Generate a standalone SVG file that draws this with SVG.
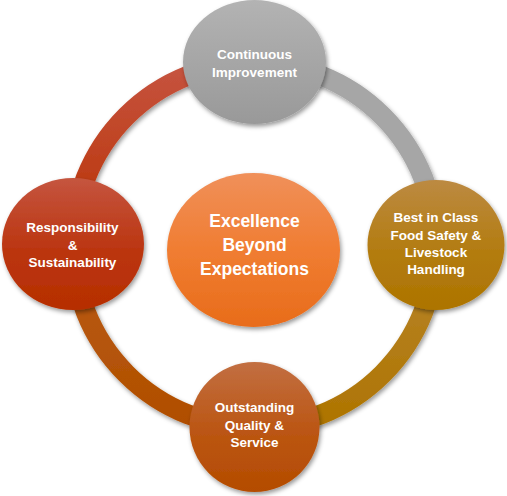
<svg xmlns="http://www.w3.org/2000/svg" width="507" height="496" viewBox="0 0 507 496">
<defs>
<filter id="sh" x="-20%" y="-20%" width="140%" height="140%">
<feDropShadow dx="1.5" dy="2.5" stdDeviation="2" flood-color="#000" flood-opacity="0.4"/>
</filter>
<linearGradient id="gTop" x1="0" y1="0" x2="0" y2="1">
<stop offset="0" stop-color="#b3b3b3"/><stop offset="1" stop-color="#999999"/>
</linearGradient>
<linearGradient id="gLeft" x1="0" y1="0" x2="0" y2="1">
<stop offset="0" stop-color="#c5553f"/><stop offset="0.55" stop-color="#bb3510"/><stop offset="1" stop-color="#b62e00"/>
</linearGradient>
<linearGradient id="gRight" x1="0" y1="0" x2="0" y2="1">
<stop offset="0" stop-color="#bc8a42"/><stop offset="0.55" stop-color="#b37c10"/><stop offset="1" stop-color="#ad7400"/>
</linearGradient>
<linearGradient id="gBottom" x1="0" y1="0" x2="0" y2="1">
<stop offset="0" stop-color="#c26f42"/><stop offset="0.55" stop-color="#bb5512"/><stop offset="1" stop-color="#b44c00"/>
</linearGradient>
<linearGradient id="gCenter" x1="0" y1="0" x2="0" y2="1">
<stop offset="0" stop-color="#f0905a"/><stop offset="0.5" stop-color="#f07d32"/><stop offset="1" stop-color="#e86c1a"/>
</linearGradient>
<linearGradient id="aRed" gradientUnits="userSpaceOnUse" x1="0" y1="63" x2="0" y2="245">
<stop offset="0" stop-color="#c65440"/><stop offset="1" stop-color="#b83000"/>
</linearGradient>
<linearGradient id="aGold" gradientUnits="userSpaceOnUse" x1="0" y1="245" x2="0" y2="427">
<stop offset="0" stop-color="#b8862e"/><stop offset="1" stop-color="#ae7400"/>
</linearGradient>
<linearGradient id="aOrange" gradientUnits="userSpaceOnUse" x1="0" y1="245" x2="0" y2="427">
<stop offset="0" stop-color="#ba5c14"/><stop offset="1" stop-color="#b04e00"/>
</linearGradient>
</defs>
<style>
.arc{fill:none;stroke-width:20}
.t{font-family:"Liberation Sans",Arial,sans-serif;font-weight:bold;fill:#ffffff;text-anchor:middle;font-size:13.5px}
.tc{font-size:17.5px}
</style>
<g id="connectors" filter="url(#sh)">
<path class="arc" d="M73,245 A181.5,182 0 0 1 254.5,63" stroke="url(#aRed)"/>
<path class="arc" d="M254.5,63 A181.5,182 0 0 1 436,245" stroke="#a6a6a6"/>
<path class="arc" d="M436,245 A181.5,182 0 0 1 254.5,427" stroke="url(#aGold)"/>
<path class="arc" d="M254.5,427 A181.5,182 0 0 1 73,245" stroke="url(#aOrange)"/>
</g>
<g id="center">
<ellipse cx="253.5" cy="250" rx="86.5" ry="77" fill="url(#gCenter)" filter="url(#sh)"/>
<text class="t tc" x="254.5" y="227">Excellence</text>
<text class="t tc" x="254.5" y="251">Beyond</text>
<text class="t tc" x="254.5" y="275">Expectations</text>
</g>
<g id="top">
<ellipse cx="254.5" cy="62" rx="71.5" ry="62" fill="url(#gTop)" filter="url(#sh)"/>
<text class="t" x="254.5" y="59">Continuous</text>
<text class="t" x="254.5" y="77">Improvement</text>
</g>
<g id="left">
<ellipse cx="73" cy="244" rx="71" ry="66" fill="url(#gLeft)" filter="url(#sh)"/>
<text class="t" x="72.5" y="232">Responsibility</text>
<text class="t" x="72.5" y="250">&amp;</text>
<text class="t" x="72.5" y="267">Sustainability</text>
</g>
<g id="right">
<ellipse cx="436" cy="245" rx="68.5" ry="65" fill="url(#gRight)" filter="url(#sh)"/>
<text class="t" x="436" y="222">Best in Class</text>
<text class="t" x="436" y="240">Food Safety &amp;</text>
<text class="t" x="436" y="257">Livestock</text>
<text class="t" x="436" y="274">Handling</text>
</g>
<g id="bottom">
<ellipse cx="254.5" cy="427" rx="65" ry="65" fill="url(#gBottom)" filter="url(#sh)"/>
<text class="t" x="254.5" y="412">Outstanding</text>
<text class="t" x="254.5" y="430">Quality &amp;</text>
<text class="t" x="254.5" y="447">Service</text>
</g>
</svg>
